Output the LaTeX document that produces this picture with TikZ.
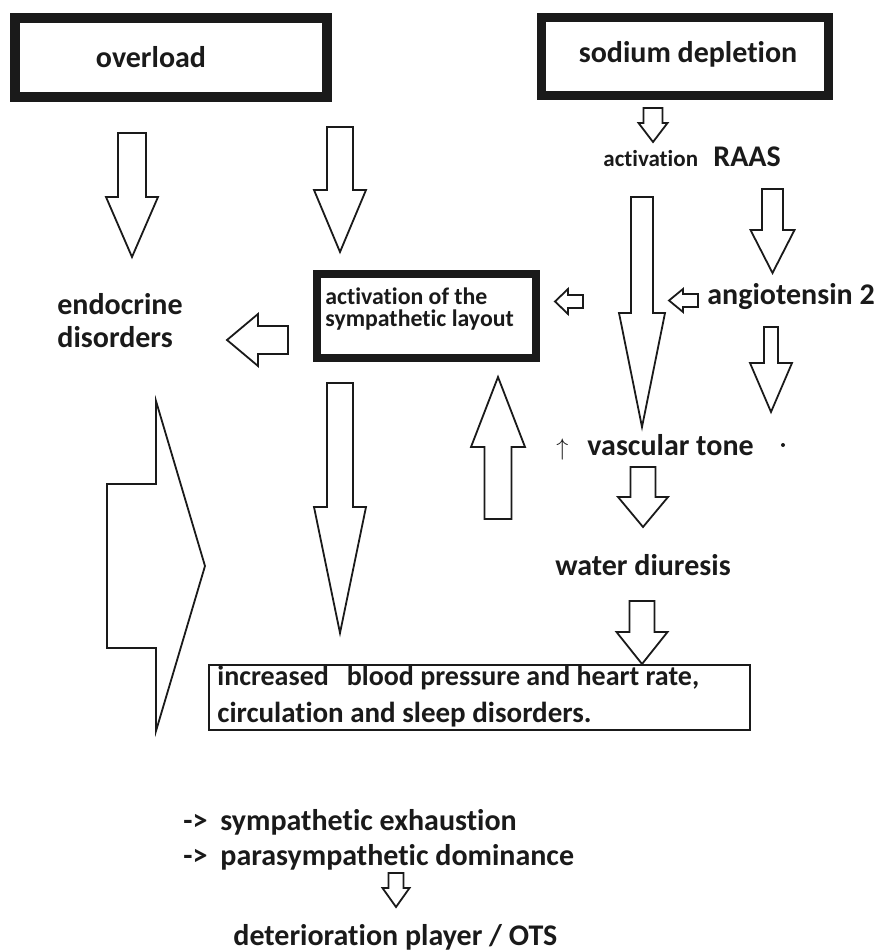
\documentclass[tikz,border=0pt]{standalone}
\usepackage{fontspec}
\setmainfont{Carlito}[Ligatures={NoCommon}]
\usepackage{tikz}
\usetikzlibrary{positioning}
\definecolor{inkdark}{HTML}{1A1A1A}

% hollow block arrows: centre, back end, shaft half width, head base, head half width, tip
\newcommand{\vblock}[6]{\draw[blockarrow] (#1-#3,#2) -- (#1+#3,#2) -- (#1+#3,#4) -- (#1+#5,#4) -- (#1,#6) -- (#1-#5,#4) -- (#1-#3,#4) -- cycle;}
\newcommand{\hblock}[6]{\draw[blockarrow] (#2,#1-#3) -- (#2,#1+#3) -- (#4,#1+#3) -- (#4,#1+#5) -- (#6,#1) -- (#4,#1-#5) -- (#4,#1-#3) -- cycle;}

\begin{document}
\begin{tikzpicture}[x=0.5pt, y=-0.5pt,
    blockarrow/.style={draw=inkdark, line width=0.9pt, fill=white, line join=miter},
    heavybox/.style={draw=inkdark, fill=white, inner sep=0pt},
    txt/.style={font=\fontsize{15}{18}\selectfont\bfseries, text=inkdark, inner sep=0pt},
    smalltxt/.style={font=\fontsize{11.9}{14}\selectfont\bfseries, text=inkdark, inner sep=0pt},
    boxtxt/.style={font=\fontsize{14.5}{17}\selectfont\bfseries, text=inkdark, inner sep=0pt}]
    \useasboundingbox (0,0) rectangle (875,951);

    % === BOXES ===
    \node[heavybox, line width=5pt, minimum width=156pt, minimum height=39.5pt] (overloadbox) at (171,57.5) {};
    \node[heavybox, line width=4.5pt, minimum width=143.5pt, minimum height=39pt] (sodiumbox) at (685,56.5) {};
    \node[heavybox, line width=4pt, minimum width=109.5pt, minimum height=42pt] (sympbox) at (426.5,316) {};
    \node[heavybox, line width=1pt, minimum width=270.5pt, minimum height=32.5pt] (resultbox) at (479.5,697.5) {};

    % === OVERLOAD SIDE ===
    \foreach \cx/\back/\sw/\hy/\hw/\tip in {132/133/14/197/26/257, 340/127/13/190/26/252,
        340/383/13/507/26/633, 498/519/13.5/447/27/377} {
        \vblock{\cx}{\back}{\sw}{\hy}{\hw}{\tip}
    }
    \hblock{340}{288}{14}{258}{26}{227}
    % big arrow on the left
    \hblock{566}{107}{82}{156}{165}{205}

    % === SODIUM SIDE ===
    \foreach \cx/\back/\sw/\hy/\hw/\tip in {653/108/9.5/123/14.5/142, 642/197/11/313/23/427,
        772.5/189/10.5/230/22/273, 771/327/7/363/21/412, 643/467/12.5/497/25/527,
        642/601/12.5/632/25.5/664} {
        \vblock{\cx}{\back}{\sw}{\hy}{\hw}{\tip}
    }
    \hblock{300.5}{698}{6.5}{683}{11.5}{669}
    \hblock{301.5}{583}{6.5}{568}{12.5}{555}

    % bottom arrow
    \vblock{396}{873}{7.5}{888}{13.5}{907}

    % === TEXTS ===
    \node[txt, anchor=base] (overload) at (151,68) {overload};
    \node[txt, anchor=base] (sodium) at (688,63) {sodium depletion};
    \node[txt, anchor=base west] (endoA) at (57,315) {endocrine};
    \node[txt, anchor=base west] (endoB) at (57,348) {disorders};
    \node[smalltxt, anchor=base west] (sympA) at (325,305) {activation of the};
    \node[smalltxt, anchor=base west] (sympB) at (325,327) {sympathetic layout};
    \node[txt, font=\fontsize{11.5}{14}\selectfont\bfseries, anchor=base west] (raasact) at (603,167) {activation};
    \node[txt, anchor=base west] (raas) at (713,167) {RAAS};
    \node[txt, anchor=base west] (angio) at (707,305) {angiotensin 2};
    \node[txt, font=\large, anchor=base west] (uparr) at (556,455) {$\uparrow$};
    \node[txt, anchor=base west] (vascular) at (587,455) {vascular tone};
    \fill[inkdark] (783,445) circle (1pt);
    \node[txt, anchor=base] (water) at (643,575) {water diuresis};
    \node[boxtxt, font=\fontsize{14}{17}\selectfont\bfseries, anchor=base west] (resA) at (217,685) {increased\hspace{9pt}blood pressure and heart rate,};
    \node[boxtxt, anchor=base west] (resB) at (217,722) {circulation and sleep disorders.};

    % outcome
    \node[txt, anchor=base west] (arrA) at (183,830) {->};
    \node[txt, anchor=base west] (exhaust) at (220,830) {sympathetic exhaustion};
    \node[txt, anchor=base west] (arrB) at (183,865) {->};
    \node[txt, anchor=base west] (dominance) at (220,865) {parasympathetic dominance};
    \node[txt, anchor=base west] (ots) at (233,945) {deterioration player / OTS};
\end{tikzpicture}
\end{document}
